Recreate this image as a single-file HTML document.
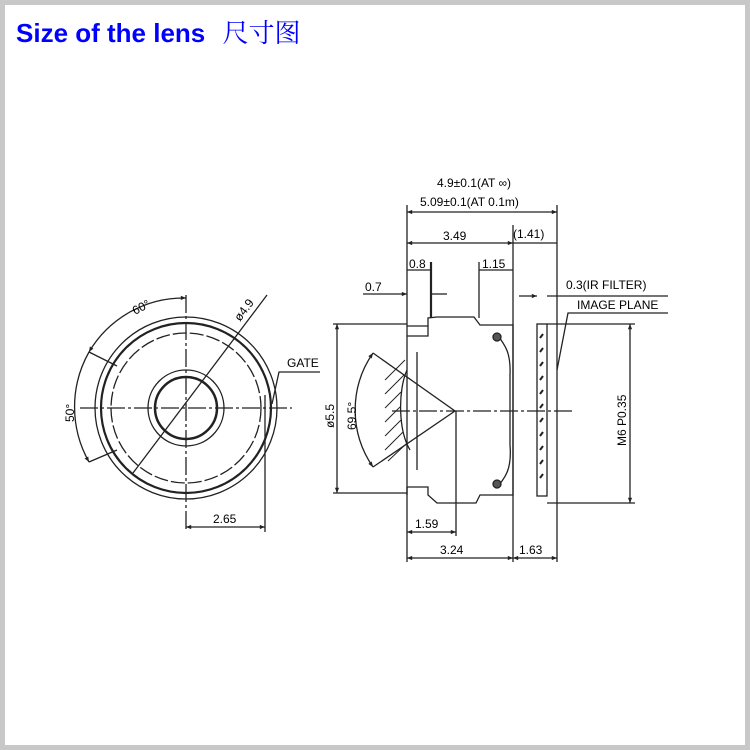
<!DOCTYPE html>
<html><head><meta charset="utf-8"><style>
html,body{margin:0;padding:0;background:#fff}
.wrap{position:relative;width:740px;height:740px;border:5px solid #c8c8c8;border-right-width:5px;background:#fff;overflow:hidden}
.title{position:absolute;left:11px;top:8px;font:bold 26px "Liberation Sans",sans-serif;color:#0000ff;white-space:nowrap}
.title span{font-family:"Noto Serif CJK SC","Noto Sans CJK SC",serif;font-weight:normal;margin-left:10px}
svg{position:absolute;left:-5px;top:-5px}
text{font-family:"Liberation Sans",sans-serif;font-size:12px;fill:#000}
</style></head><body><div class="wrap">
<div class="title">Size of the lens <span>尺寸图</span></div>
<svg width="750" height="750" viewBox="0 0 750 750">
<defs><marker id="a" viewBox="0 0 10 10" refX="10" refY="5" markerWidth="6" markerHeight="4" orient="auto-start-reverse"><path d="M0,1L10,5L0,9z" fill="#222"/></marker></defs>
<g fill="none" stroke="#222" stroke-width="1.3">
<circle cx="186" cy="408" r="91"/>
<circle cx="186" cy="408" r="85" stroke-width="2.2"/>
<circle cx="186" cy="408" r="75" stroke-dasharray="14 3"/>
<circle cx="186" cy="408" r="38"/>
<circle cx="186" cy="408" r="31" stroke-width="2.5"/>
<line x1="186" y1="295" x2="186" y2="532" stroke-dasharray="18 3 3 3"/>
<line x1="80" y1="408" x2="292" y2="408" stroke-dasharray="18 3 3 3"/>
<line x1="133" y1="473" x2="267" y2="295"/>
<path d="M186,298 A110,110 0 0 0 89,352" marker-start="url(#a)" marker-end="url(#a)"/>
<path d="M89,352 A112,112 0 0 0 89,462" marker-end="url(#a)"/>
<line x1="89" y1="352" x2="117" y2="366"/>
<line x1="89" y1="462" x2="117" y2="450"/>
<path d="M272,404 L279,372 L320,372"/>
<line x1="265" y1="395" x2="265" y2="532"/>
<line x1="186" y1="527" x2="265" y2="527" marker-start="url(#a)" marker-end="url(#a)"/>
<path d="M407,326 H428 V318 L437,317 H474 L480,325 H513 V495 H480 L476,503 H437 L428,495 V487 H407"/>
<path d="M407,336 H428 V326"/><path d="M407,487 V495"/>
<line x1="407" y1="205" x2="407" y2="562"/>
<line x1="417" y1="352" x2="417" y2="470"/>
<line x1="431" y1="262" x2="431" y2="318" stroke-width="2.2"/>
<line x1="456" y1="411" x2="456" y2="536"/>
<line x1="479" y1="262" x2="479" y2="318"/>
<line x1="513" y1="225" x2="513" y2="562"/>
<line x1="557" y1="205" x2="557" y2="562"/>
<path d="M496,333 C505,345 511,352 510,375 L510,445 C512,470 505,478 496,488"/>
<circle cx="497" cy="337" r="4" fill="#555"/><circle cx="497" cy="484" r="4" fill="#555"/>
<rect x="537" y="324" width="10" height="172"/>
<g stroke-width="2"><line x1="540" y1="338" x2="543" y2="334"/><line x1="540" y1="352" x2="543" y2="348"/><line x1="540" y1="366" x2="543" y2="362"/><line x1="540" y1="380" x2="543" y2="376"/><line x1="540" y1="394" x2="543" y2="390"/><line x1="540" y1="408" x2="543" y2="404"/><line x1="540" y1="422" x2="543" y2="418"/><line x1="540" y1="436" x2="543" y2="432"/><line x1="540" y1="450" x2="543" y2="446"/><line x1="540" y1="464" x2="543" y2="460"/><line x1="540" y1="478" x2="543" y2="474"/></g>
<line x1="392" y1="411" x2="575" y2="411" stroke-dasharray="18 3 3 3"/>
<path d="M373,353 L455,411 L373,467"/>
<path d="M373,353 A100,100 0 0 0 373,467" marker-start="url(#a)" marker-end="url(#a)"/>
<path d="M407,370 C398,390 398,430 410,450"/>
<g stroke-width="1"><line x1="385" y1="380" x2="405" y2="360"/><line x1="385" y1="394" x2="404" y2="375"/><line x1="385" y1="408" x2="401" y2="392"/><line x1="385" y1="422" x2="400" y2="407"/><line x1="385" y1="436" x2="401" y2="420"/><line x1="385" y1="450" x2="403" y2="432"/><line x1="388" y1="461" x2="406" y2="444"/></g>
<line x1="333" y1="324" x2="407" y2="324"/><line x1="333" y1="493" x2="407" y2="493"/>
<line x1="337" y1="324" x2="337" y2="493" marker-start="url(#a)" marker-end="url(#a)"/>
<line x1="547" y1="324" x2="635" y2="324"/><line x1="547" y1="503" x2="635" y2="503"/>
<line x1="630" y1="324" x2="630" y2="503" marker-start="url(#a)" marker-end="url(#a)"/>
<line x1="407" y1="212" x2="557" y2="212" marker-start="url(#a)" marker-end="url(#a)"/>
<line x1="407" y1="243" x2="513" y2="243" marker-start="url(#a)" marker-end="url(#a)"/>
<line x1="513" y1="243" x2="557" y2="243"/>
<line x1="407" y1="270" x2="431" y2="270"/><line x1="479" y1="270" x2="513" y2="270"/>
<line x1="363" y1="294" x2="407" y2="294" marker-end="url(#a)"/><line x1="431" y1="294" x2="447" y2="294"/>
<line x1="519" y1="296" x2="537" y2="296" marker-end="url(#a)"/><line x1="547" y1="296" x2="668" y2="296"/>
<path d="M557,370 L568,313 H668"/>
<line x1="407" y1="532" x2="456" y2="532" marker-start="url(#a)" marker-end="url(#a)"/>
<line x1="407" y1="558" x2="513" y2="558" marker-start="url(#a)" marker-end="url(#a)"/>
<line x1="513" y1="558" x2="557" y2="558" marker-start="url(#a)" marker-end="url(#a)"/>
</g>
<g>
<text x="135" y="315" transform="rotate(-28 135 315)">60°</text>
<text x="74" y="422" transform="rotate(-90 74 422)">50°</text>
<text x="240" y="322" transform="rotate(-53 240 322)">ø4.9</text>
<text x="287" y="367">GATE</text>
<text x="213" y="523">2.65</text>
<text x="437" y="187" font-size="11">4.9±0.1(AT ∞)</text>
<text x="420" y="206" font-size="11.5">5.09±0.1(AT 0.1m)</text>
<text x="443" y="240">3.49</text>
<text x="513" y="238">(1.41)</text>
<text x="409" y="268">0.8</text>
<text x="482" y="268">1.15</text>
<text x="365" y="291">0.7</text>
<text x="566" y="289">0.3(IR FILTER)</text>
<text x="577" y="309">IMAGE PLANE</text>
<text x="334" y="428" transform="rotate(-90 334 428)">ø5.5</text>
<text x="356" y="430" transform="rotate(-90 356 430)">69.5°</text>
<text x="626" y="446" transform="rotate(-90 626 446)">M6 P0.35</text>
<text x="415" y="528">1.59</text>
<text x="440" y="554">3.24</text>
<text x="519" y="554">1.63</text>
</g>
</svg></div></body></html>
